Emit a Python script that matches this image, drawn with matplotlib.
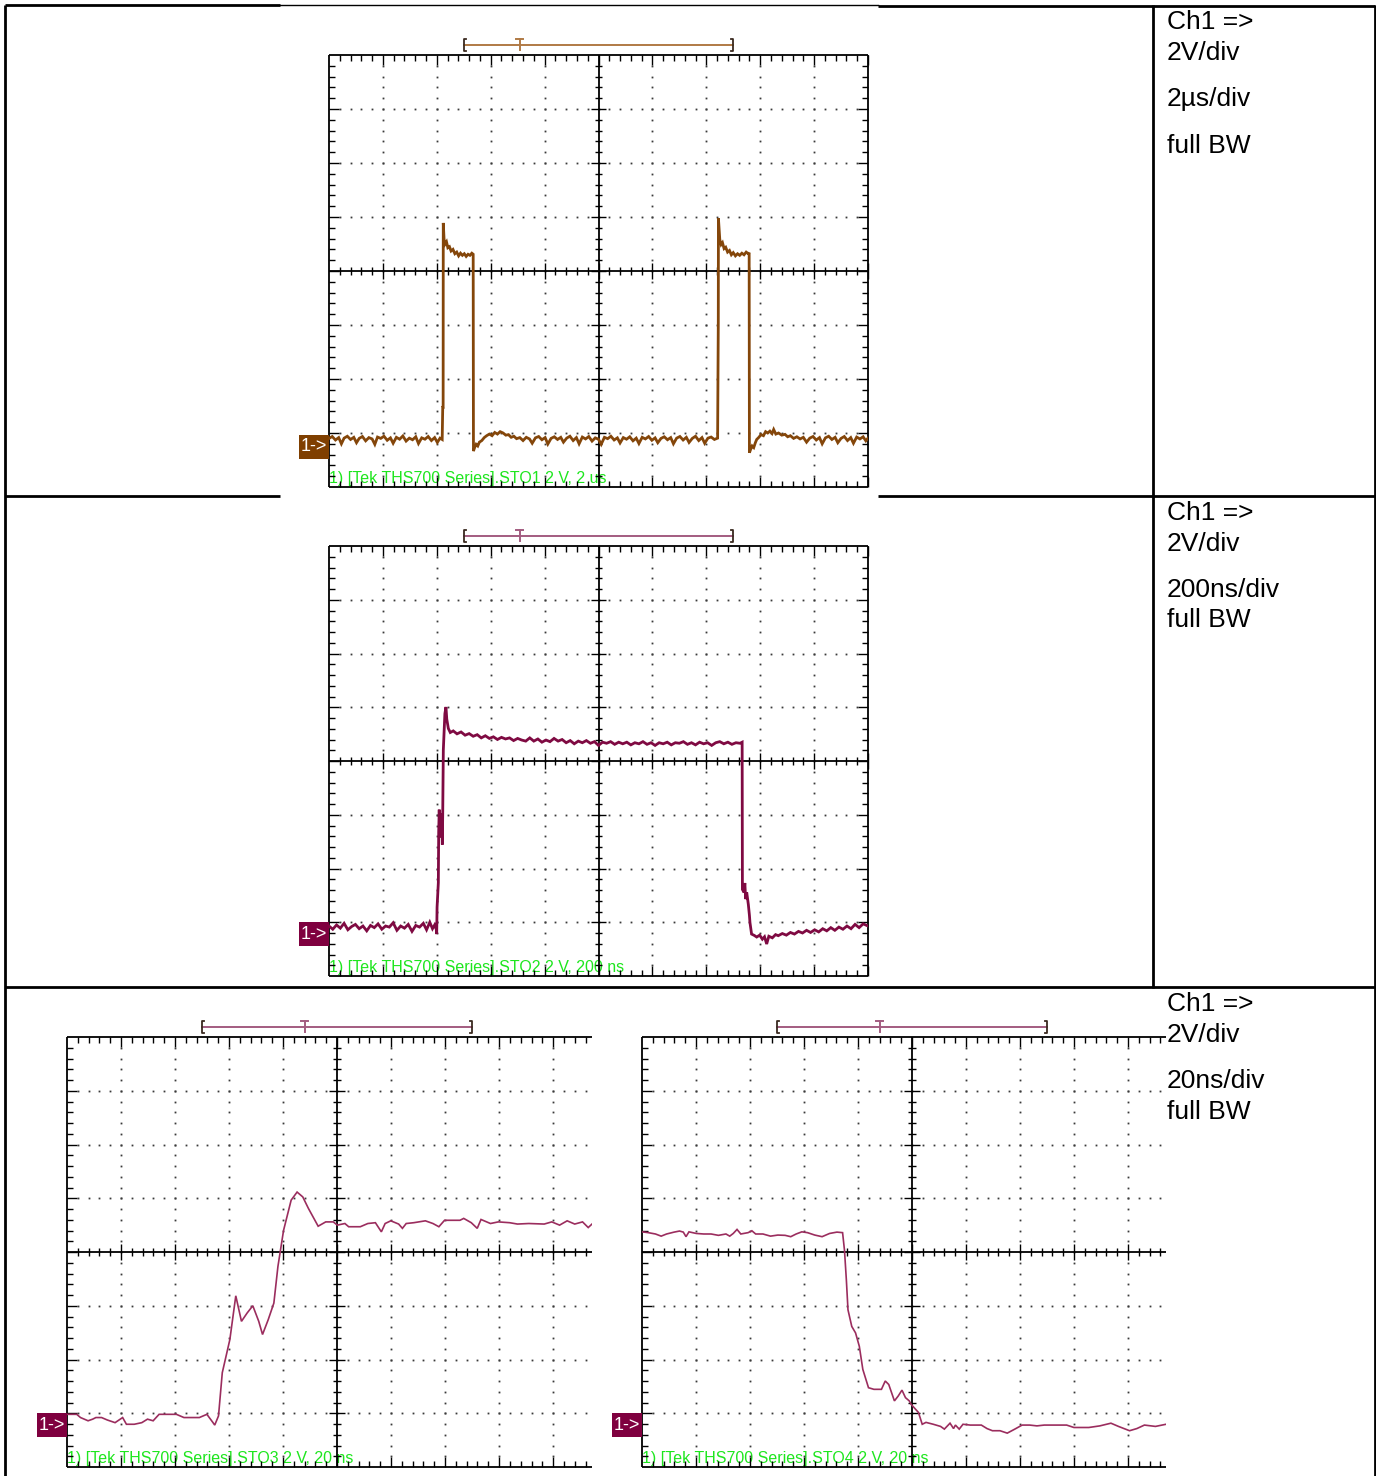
import numpy as np
import matplotlib.pyplot as plt
from matplotlib.collections import LineCollection
from matplotlib.patches import Rectangle

plt.rcParams['font.family'] = ['Liberation Sans', 'DejaVu Sans']

W, H = 1376, 1476
PX_DIV = 54.0   # screen pixels per graticule division
V_DIV = 2.0     # volts per division on every capture

# --- captures: (time, volts) ---------------------------------------------
# STO1, 2 us/div
STO1 = [
    (0.00, 0.30), (0.12, 0.37), (0.24, 0.24), (0.36, 0.33), (0.46, 0.10), (0.56, 0.31),
    (0.68, 0.38), (0.80, 0.26), (0.92, 0.34), (1.02, 0.14), (1.12, 0.30), (1.24, 0.37),
    (1.36, 0.21), (1.48, 0.33), (1.60, 0.28), (1.70, 0.08), (1.80, 0.35), (1.92, 0.30),
    (2.04, 0.38), (2.16, 0.23), (2.28, 0.32), (2.38, 0.12), (2.50, 0.34), (2.62, 0.27),
    (2.74, 0.39), (2.86, 0.20), (2.98, 0.31), (3.10, 0.25), (3.22, 0.36), (3.32, 0.11),
    (3.44, 0.32), (3.56, 0.27), (3.68, 0.37), (3.80, 0.22), (3.92, 0.33), (4.02, 0.15),
    (4.12, 0.31), (4.20, 0.26),
    (4.22, 1.45), (4.235, 1.45), (4.24, 8.28), (4.27, 7.67), (4.31, 7.50), (4.36, 7.58),
    (4.41, 7.36), (4.47, 7.40), (4.53, 7.24), (4.60, 7.30), (4.67, 7.14), (4.74, 7.20),
    (4.81, 7.06), (4.88, 7.16), (4.95, 7.08), (5.02, 7.14), (5.09, 7.04), (5.16, 7.12),
    (5.23, 7.08), (5.30, 7.16), (5.35, 7.12),
    (5.36, -0.17), (5.40, -0.05), (5.46, 0.08), (5.52, 0.02), (5.58, 0.16), (5.67, 0.22),
    (5.76, 0.33), (5.85, 0.40), (5.95, 0.46), (6.05, 0.40), (6.15, 0.52), (6.25, 0.46),
    (6.35, 0.55), (6.46, 0.50), (6.56, 0.42), (6.66, 0.44), (6.76, 0.34), (6.86, 0.38),
    (6.96, 0.29), (7.08, 0.33),
    (7.20, 0.22), (7.32, 0.34), (7.44, 0.28), (7.54, 0.12), (7.66, 0.32), (7.78, 0.37),
    (7.90, 0.25), (8.02, 0.33), (8.12, 0.09), (8.24, 0.30), (8.36, 0.36), (8.48, 0.26),
    (8.60, 0.34), (8.70, 0.16), (8.82, 0.31), (8.94, 0.38), (9.06, 0.22), (9.18, 0.33),
    (9.28, 0.10), (9.40, 0.35), (9.52, 0.28), (9.64, 0.37), (9.76, 0.20), (9.88, 0.32),
    (10.00, 0.27), (10.10, 0.08), (10.22, 0.34), (10.34, 0.29), (10.46, 0.38), (10.58, 0.24),
    (10.70, 0.32), (10.80, 0.13), (10.92, 0.33), (11.04, 0.27), (11.16, 0.36), (11.28, 0.21),
    (11.40, 0.31), (11.50, 0.11), (11.62, 0.34), (11.74, 0.28), (11.86, 0.37), (11.98, 0.23),
    (12.10, 0.32), (12.20, 0.14), (12.32, 0.30), (12.44, 0.36), (12.56, 0.25), (12.68, 0.33),
    (12.78, 0.10), (12.90, 0.31), (13.02, 0.37), (13.14, 0.24), (13.26, 0.34), (13.36, 0.15),
    (13.48, 0.30), (13.60, 0.38), (13.72, 0.22), (13.84, 0.33), (13.94, 0.12), (14.06, 0.31),
    (14.18, 0.35), (14.30, 0.26), (14.42, 0.31),
    (14.44, 3.98), (14.445, 4.60), (14.45, 8.45), (14.50, 7.67), (14.55, 7.48), (14.60, 7.55),
    (14.66, 7.33), (14.72, 7.38), (14.79, 7.20), (14.86, 7.26), (14.93, 7.10), (15.00, 7.18),
    (15.08, 7.06), (15.16, 7.14), (15.24, 7.08), (15.32, 7.16), (15.40, 7.10), (15.48, 7.20),
    (15.56, 7.14), (15.59, 7.18),
    (15.60, -0.23), (15.64, -0.12), (15.70, 0.02), (15.76, -0.04), (15.82, 0.14), (15.87, 0.26),
    (15.95, 0.34), (16.03, 0.44), (16.12, 0.40), (16.20, 0.55), (16.28, 0.50), (16.36, 0.57),
    (16.44, 0.48), (16.50, 0.63), (16.58, 0.46), (16.68, 0.50), (16.80, 0.42), (16.92, 0.45),
    (17.02, 0.36), (17.12, 0.40), (17.24, 0.30), (17.36, 0.36), (17.48, 0.28),
    (17.60, 0.34), (17.72, 0.16), (17.84, 0.31), (17.96, 0.37), (18.08, 0.24), (18.20, 0.33),
    (18.30, 0.10), (18.42, 0.32), (18.54, 0.38), (18.66, 0.26), (18.78, 0.34), (18.88, 0.14),
    (19.00, 0.30), (19.12, 0.37), (19.24, 0.22), (19.36, 0.33), (19.46, 0.12), (19.58, 0.35),
    (19.70, 0.28), (19.82, 0.36), (19.92, 0.21), (20.00, 0.31),
]

# STO2, 200 ns/div
STO2 = [
    (0, 0.30), (14, 0.18), (28, 0.34), (42, 0.22), (56, 0.40), (70, 0.16), (84, 0.28),
    (98, 0.36), (112, 0.20), (126, 0.30), (140, 0.12), (154, 0.32), (168, 0.24), (182, 0.38),
    (196, 0.18), (210, 0.30), (224, 0.26), (238, 0.42), (252, 0.14), (266, 0.30), (280, 0.22),
    (294, 0.36), (308, 0.10), (322, 0.32), (336, 0.26), (350, 0.40), (362, 0.16), (374, 0.44),
    (384, 0.20), (392, 0.34), (398, 0.18),
    (399.6, 0.00), (401, 1.00), (405.7, 1.91), (407, 3.80), (409, 4.63), (411, 3.90),
    (413, 4.50), (415, 3.60), (418, 4.40), (420.5, 3.33), (422, 4.50), (424.2, 6.85),
    (430, 8.20), (434, 8.45), (437, 8.00), (442.8, 7.65), (450, 7.50), (461, 7.56),
    (475, 7.45), (490, 7.52), (505, 7.40), (520, 7.46), (535, 7.36), (550, 7.42), (565, 7.30),
    (580, 7.38), (595, 7.28), (610, 7.34), (625, 7.24), (640, 7.32), (655, 7.26), (670, 7.30),
    (685, 7.20), (700, 7.28), (715, 7.22), (730, 7.18), (745, 7.30), (760, 7.18), (775, 7.26),
    (790, 7.14), (805, 7.22), (820, 7.16), (835, 7.28), (850, 7.18), (865, 7.24), (880, 7.12),
    (895, 7.20), (910, 7.08), (925, 7.18), (940, 7.12), (955, 7.20), (970, 7.10), (985, 7.16),
    (1000, 7.02), (1015, 7.14), (1030, 7.10), (1045, 7.16), (1060, 7.06), (1075, 7.14),
    (1090, 7.08), (1105, 7.14), (1120, 7.04), (1135, 7.12), (1150, 7.08), (1165, 7.16),
    (1180, 7.06), (1195, 7.12), (1210, 7.02), (1225, 7.12), (1240, 7.08), (1255, 7.14),
    (1270, 7.04), (1285, 7.12), (1300, 7.10), (1315, 7.16), (1330, 7.06), (1345, 7.12),
    (1360, 7.04), (1375, 7.14), (1390, 7.08), (1405, 7.12), (1420, 7.02), (1435, 7.12),
    (1450, 7.16), (1465, 7.08), (1480, 7.14), (1495, 7.06), (1510, 7.12), (1525, 7.10),
    (1533, 7.14),
    (1534, 1.66), (1540, 1.55), (1543, 1.90), (1546, 1.30), (1550, 1.55), (1556, 1.10),
    (1560, 0.70), (1562, 0.43), (1568, 0.00), (1578, -0.05), (1587, -0.11), (1598, -0.04),
    (1608, -0.19), (1616, -0.10), (1624, -0.37), (1632, -0.08), (1645, -0.14), (1657, -0.02),
    (1667, -0.06), (1682, 0.02), (1697, -0.04), (1712, 0.06), (1727, 0.00), (1742, 0.10),
    (1757, 0.04), (1772, 0.14), (1787, 0.06), (1802, 0.16), (1817, 0.08), (1832, 0.20),
    (1847, 0.12), (1862, 0.24), (1877, 0.14), (1892, 0.26), (1907, 0.18), (1922, 0.30),
    (1937, 0.20), (1952, 0.36), (1967, 0.24), (1982, 0.38), (2000, 0.30),
]

# STO3, 20 ns/div, rising edge
STO3 = [
    (0.0, 0.40), (0.7, 0.40), (3.6, 0.40), (5.0, 0.28), (7.8, 0.16), (9.5, 0.22), (10.7, 0.28),
    (12.8, 0.28), (14.9, 0.19), (17.8, 0.09), (20.6, 0.28), (22.0, 0.03), (24.9, 0.03),
    (27.7, 0.09), (29.8, 0.22), (31.9, 0.16), (34.1, 0.40), (36.2, 0.40), (40.5, 0.40),
    (43.3, 0.28), (46.1, 0.28), (49.0, 0.28), (51.8, 0.40), (54.0, 0.10), (54.7, 0.00),
    (56.1, 0.34), (57.5, 1.95), (60.3, 3.18), (62.5, 4.81), (64.6, 3.86), (66.7, 4.17),
    (68.8, 4.44), (71.0, 3.86), (72.4, 3.37), (74.5, 3.92), (76.6, 4.54), (78.1, 5.90),
    (80.2, 7.25), (83.0, 8.37), (85.2, 8.67), (87.3, 8.49), (89.4, 8.06), (93.0, 7.40),
    (95.8, 7.56), (98.6, 7.56), (100.1, 7.44), (102.9, 7.50), (104.3, 7.38), (108.6, 7.38),
    (111.4, 7.50), (114.2, 7.53), (116.4, 7.19), (117.8, 7.50), (119.9, 7.60), (122.8, 7.48),
    (124.2, 7.32), (125.6, 7.50), (128.4, 7.53), (132.7, 7.60), (135.5, 7.50), (137.7, 7.38),
    (139.8, 7.62), (145.5, 7.62), (146.9, 7.69), (149.7, 7.53), (151.9, 7.32), (153.3, 7.65),
    (156.8, 7.50), (159.7, 7.56), (163.9, 7.53), (166.8, 7.48), (171.0, 7.50), (176.7, 7.48),
    (179.5, 7.56), (182.4, 7.44), (185.2, 7.60), (188.0, 7.48), (190.9, 7.56), (193.0, 7.35),
    (194.4, 7.48),
]

# STO4, 20 ns/div, falling edge
STO4 = [
    (0.0, 7.19), (2.3, 7.16), (5.0, 7.11), (7.1, 7.03), (9.1, 7.11), (11.9, 7.18), (13.9, 7.22),
    (15.3, 7.18), (16.3, 7.01), (17.4, 7.19), (20.1, 7.13), (22.9, 7.11), (25.6, 7.11),
    (28.3, 7.06), (31.1, 7.11), (32.5, 7.03), (33.8, 7.13), (35.2, 7.28), (36.6, 7.11),
    (39.3, 7.16), (40.7, 7.23), (42.1, 7.11), (44.8, 7.11), (47.6, 7.03), (50.3, 7.07),
    (53.0, 7.06), (55.1, 7.01), (57.1, 7.11), (59.2, 7.19), (61.3, 7.16), (64.0, 7.07),
    (66.7, 7.01), (69.5, 7.13), (72.2, 7.18), (74.3, 7.16), (75.0, 6.51), (75.7, 5.40),
    (76.3, 4.29), (77.7, 3.67), (79.1, 3.43), (80.5, 2.93), (81.8, 2.07), (83.9, 1.39),
    (85.9, 1.33), (88.7, 1.33), (90.1, 1.64), (91.4, 1.51), (93.5, 0.90), (94.9, 1.08),
    (96.3, 1.30), (97.6, 1.02), (99.0, 0.90), (99.7, 0.77), (102.4, 0.47), (103.8, 0.03),
    (105.2, 0.10), (107.9, 0.03), (110.6, -0.05), (112.0, -0.15), (114.1, 0.07), (115.4, -0.13),
    (116.1, 0.00), (117.5, -0.15), (118.9, 0.03), (121.6, 0.00), (125.7, 0.00), (127.8, -0.13),
    (129.8, -0.21), (132.6, -0.21), (135.3, -0.30), (138.1, -0.15), (140.8, 0.00), (143.6, 0.00),
    (146.3, -0.03), (149.0, 0.00), (154.5, 0.00), (157.3, 0.00), (160.0, -0.09), (165.5, -0.09),
    (169.6, -0.03), (173.7, 0.07), (176.5, -0.05), (180.6, -0.21), (183.3, -0.13), (186.1, 0.00),
    (190.2, -0.05), (194.1, 0.03),
]

STO_LABELS = [
    '1) [Tek THS700 Series].STO1 2 V, 2 us',
    '1) [Tek THS700 Series].STO2 2 V, 200 ns',
    '1) [Tek THS700 Series].STO3 2 V, 20 ns',
    '1) [Tek THS700 Series].STO4 2 V, 20 ns',
]
ROW_NOTES = [
    ['Ch1 =>', '2V/div', '2\u00b5s/div', 'full BW'],
    ['Ch1 =>', '2V/div', '200ns/div', 'full BW'],
    ['Ch1 =>', '2V/div', '20ns/div', 'full BW'],
]
NOTE_Y = [[22, 53, 99, 146], [513, 544, 590, 620], [1004, 1035, 1081, 1112]]

BROWN = '#7F3F00'
MAUVE = '#7F003F'
GREEN = '#1EE61E'


def fig_rect(x0, y0, x1, y1):
    return [x0 / W, 1 - y1 / H, (x1 - x0) / W, (y1 - y0) / H]


def draw_graticule(ax, t_div, y_mid, xmax, right_edge=True):
    sx, sy = t_div / PX_DIV, V_DIV / PX_DIV
    ybot, ytop = y_mid - 4 * V_DIV, y_mid + 4 * V_DIV
    xc = 5 * t_div
    segs = []
    i = 1
    while i * 0.2 * t_div <= xmax + 1e-9:
        x = i * 0.2 * t_div
        big = i % 5 == 0
        edge = 10 if big else 6
        cross = 8 if big else 4
        segs.append([(x, ybot), (x, ybot + edge * sy)])
        segs.append([(x, ytop), (x, ytop - edge * sy)])
        segs.append([(x, y_mid - cross * sy), (x, y_mid + cross * sy)])
        i += 1
    for j in range(-19, 20):
        y = y_mid + j * 0.2 * V_DIV
        big = j % 5 == 0
        edge = 10 if big else 6
        cross = 8 if big else 4
        segs.append([(0, y), (edge * sx, y)])
        if right_edge:
            segs.append([(10 * t_div, y), (10 * t_div - edge * sx, y)])
        segs.append([(xc - cross * sx, y), (xc + cross * sx, y)])
    ax.add_collection(LineCollection(segs, colors='black', linewidths=1.0,
                                     zorder=2, clip_on=False))

    # frame and centre cross
    frame = [[(0, ybot), (0, ytop)], [(0, ytop), (xmax, ytop)],
             [(0, ybot), (xmax, ybot)], [(xc, ybot), (xc, ytop)],
             [(0, y_mid), (xmax, y_mid)]]
    if right_edge:
        frame.append([(xmax, ybot), (xmax, ytop)])
    ax.add_collection(LineCollection(frame, colors='black', linewidths=1.3,
                                     zorder=2, clip_on=False))

    # dotted division lines
    dx, dy = [], []
    n = 1
    while n * 0.2 * t_div < xmax:
        for m in (-3, -2, -1, 1, 2, 3):
            dx.append(n * 0.2 * t_div)
            dy.append(y_mid + m * V_DIV)
        n += 1
    for k in (1, 2, 3, 4, 6, 7, 8, 9):
        if k * t_div >= xmax:
            continue
        for j in range(-19, 20):
            dx.append(k * t_div)
            dy.append(y_mid + j * 0.2 * V_DIV)
    ax.plot(dx, dy, ls='none', marker='s', ms=1.3, mew=0, color='#3a3a3a', zorder=1)


def scope(rect, trace, t_div, y_mid, xmax, color, trace_color, lw, bar_color,
          trig_div, label, right_edge=True):
    ax = fig.add_axes(fig_rect(*rect))
    ax.set_xlim(0, xmax)
    ax.set_ylim(y_mid - 4 * V_DIV, y_mid + 4 * V_DIV)
    ax.axis('off')
    sx, sy = t_div / PX_DIV, V_DIV / PX_DIV
    ytop = y_mid + 4 * V_DIV

    ax.text(0.3 * sx, y_mid - 4 * V_DIV + 1 * sy, label, color=GREEN, fontsize=11.5,
            ha='left', va='bottom', zorder=1)
    draw_graticule(ax, t_div, y_mid, xmax, right_edge)

    t, v = np.array(trace).T
    ax.plot(t, v, color=trace_color, lw=lw, zorder=4, solid_joinstyle='miter')

    # ground reference marker
    ax.add_patch(Rectangle((-30 * sx, -12 * sy), 30 * sx, 24 * sy, facecolor=color,
                           edgecolor='none', clip_on=False, zorder=3))
    ax.text(-15 * sx, 0, '1->', color='white', fontsize=13, ha='center',
            va='center', clip_on=False, zorder=4)

    # record / trigger bar above the screen
    by = ytop + 10 * sy
    xl, xr, xt = 2.5 * t_div, 7.5 * t_div, trig_div * t_div
    kw = dict(clip_on=False, zorder=3)
    ax.plot([xl, xr], [by, by], color=bar_color, lw=1.4, **kw)
    for xb, d in ((xl, 1), (xr, -1)):
        ax.plot([xb + d * 2 * sx, xb, xb, xb + d * 2 * sx],
                [by + 6 * sy, by + 6 * sy, by - 6 * sy, by - 6 * sy],
                color='#3a2a20', lw=1.3, **kw)
    ax.plot([xt, xt], [by + 6 * sy, by - 5 * sy], color=bar_color, lw=1.4, **kw)
    ax.plot([xt - 3.5 * sx, xt + 3.5 * sx], [by + 6 * sy, by + 6 * sy],
            color=bar_color, lw=1.4, **kw)
    return ax


fig = plt.figure(figsize=(W / 100, H / 100), dpi=100)

# table lines
bg = fig.add_axes([0, 0, 1, 1], zorder=0)
bg.set_xlim(0, W)
bg.set_ylim(H, 0)
bg.axis('off')
table = [
    [(5, 5), (280, 5)], [(878, 5.5), (1375, 5.5)],
    [(5, 5), (5, H)], [(1375, 5), (1375, H)], [(1153, 5), (1153, 988)],
    [(5, 496), (280, 496)], [(878, 496), (1375, 496)],
    [(5, 987), (1375, 987)],
]
bg.add_collection(LineCollection(table, colors='black', linewidths=2.0))
bg.plot([280, 878], [5, 5], color='black', lw=1.0)

for notes, ys in zip(ROW_NOTES, NOTE_Y):
    for txt, y in zip(notes, ys):
        bg.text(1167, y, txt, fontsize=19, ha='left', va='center', color='black')

scope((329, 55, 868, 487), STO1, 2.0, 6.5, 20.0, BROWN, '#84460A', 2.0,
      '#B07A45', 3.54, STO_LABELS[0])
scope((329, 546, 868, 976), STO2, 200.0, 6.44, 2000.0, MAUVE, '#7F0A42', 2.0,
      '#A35C80', 3.54, STO_LABELS[1])
scope((67, 1037, 592, 1467), STO3, 20.0, 6.44, 194.4, MAUVE, '#9B2D5E', 1.2,
      '#A35C80', 4.4, STO_LABELS[2], right_edge=False)
scope((642, 1037, 1166, 1467), STO4, 20.0, 6.44, 194.1, MAUVE, '#9B2D5E', 1.2,
      '#A35C80', 4.4, STO_LABELS[3], right_edge=False)

fig.savefig('out.png', dpi=100, facecolor='white')
